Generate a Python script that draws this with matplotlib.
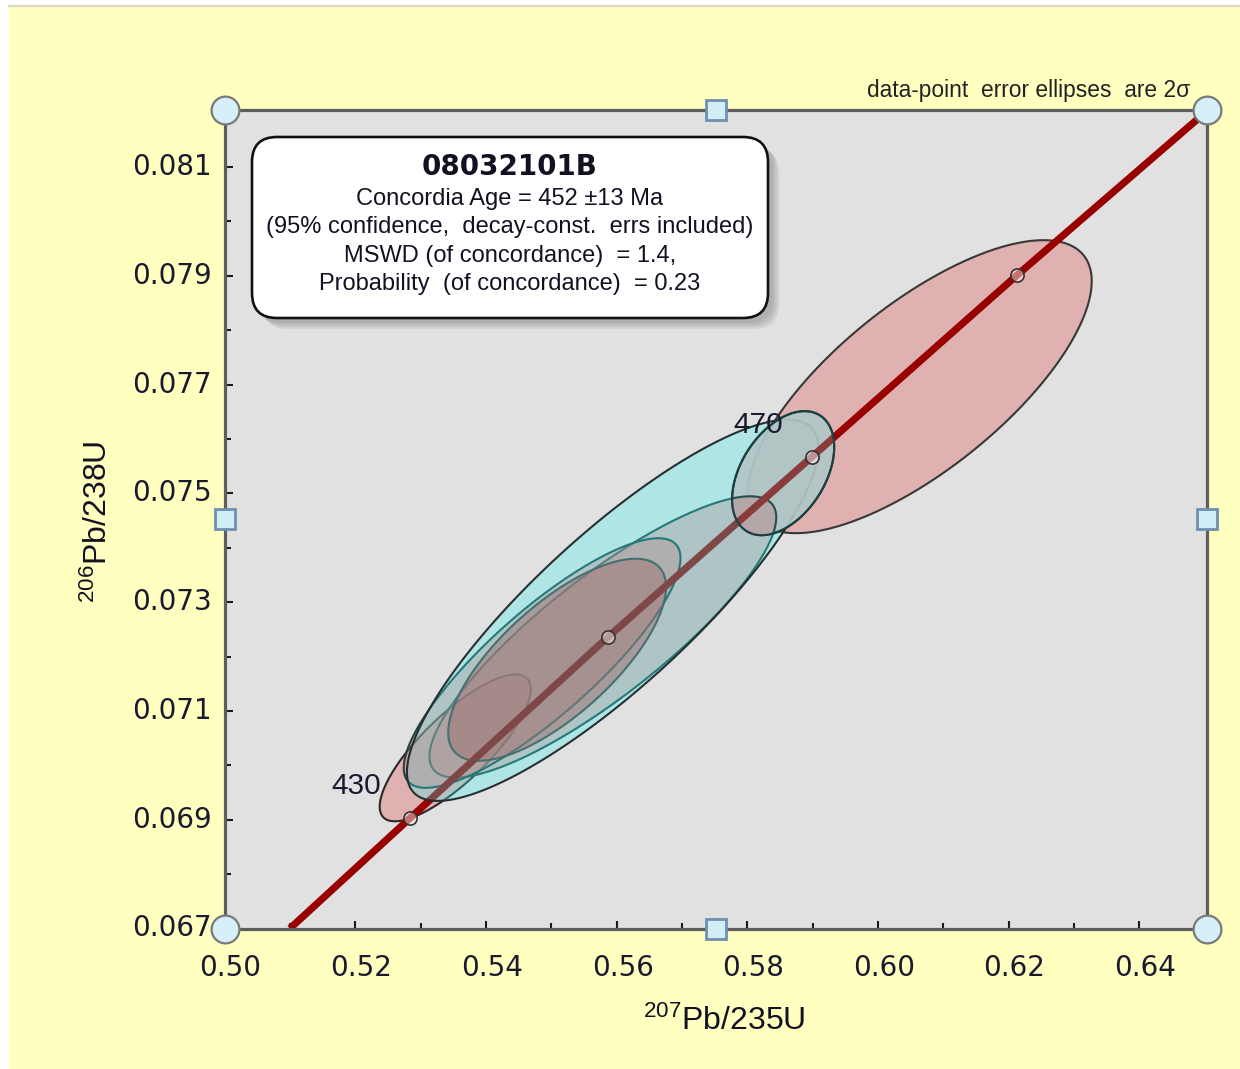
import numpy as np
import matplotlib
matplotlib.use("Agg")
import matplotlib.pyplot as plt
from matplotlib.patches import Polygon, FancyBboxPatch, Rectangle
from matplotlib.lines import Line2D
from matplotlib.ticker import MultipleLocator
from matplotlib.transforms import ScaledTranslation

plt.rcParams['mathtext.fontset'] = 'custom'
plt.rcParams['mathtext.rm'] = 'Liberation Sans'
plt.rcParams['mathtext.it'] = 'Liberation Sans:italic'
plt.rcParams['mathtext.bf'] = 'Liberation Sans:bold'

# ---------------- data ----------------
x_ticks = [0.50, 0.52, 0.54, 0.56, 0.58, 0.60, 0.62, 0.64]
x_tick_labels = ['0.50', '0.52', '0.54', '0.56', '0.58', '0.60', '0.62', '0.64']
y_ticks = [0.067, 0.069, 0.071, 0.073, 0.075, 0.077, 0.079, 0.081]
y_tick_labels = ['0.067', '0.069', '0.071', '0.073', '0.075', '0.077', '0.079', '0.081']

# concordia curve
conc_age = [418, 430, 450, 470, 490, 504]
conc_x = [0.5100, 0.5284, 0.5587, 0.5899, 0.6213, 0.6501]
conc_y = [0.06700, 0.06903, 0.07236, 0.07567, 0.07901, 0.08200]

# age tick marks on concordia
marker_age = [430, 450, 470, 490]
marker_x = [0.5284, 0.5587, 0.5899, 0.6213]
marker_y = [0.06903, 0.07236, 0.07567, 0.07901]
labeled_ages = [430, 470]

# error ellipses (2 sigma): centre, half-extent x, half-extent y, correlation
ell_name = ['A', 'G', 'D', 'E', 'F', 'C', 'B']
ell_x = [0.6064, 0.5353, 0.5579, 0.5486, 0.5509, 0.5594, 0.5855]
ell_y = [0.07696, 0.07032, 0.07236, 0.07188, 0.07194, 0.07285, 0.07537]
ell_sx = [0.02633, 0.01156, 0.02654, 0.02118, 0.01667, 0.03149, 0.00781]
ell_sy = [0.002693, 0.001349, 0.002585, 0.002294, 0.001857, 0.003504, 0.00114]
ell_rho = [0.72, 0.80, 0.85, 0.84, 0.72, 0.85, 0.42]

box_title = '08032101B'
box_lines = ['Concordia Age = 452 \u00b113 Ma',
             '(95% confidence,  decay-const.  errs included)',
             'MSWD (of concordance)  = 1.4,',
             'Probability  (of concordance)  = 0.23']
corner_note = 'data-point  error ellipses  are 2\u03c3'

# ---------------- figure ----------------
W, H, DPI = 1240, 1069, 100
fig = plt.figure(figsize=(W / DPI, H / DPI), dpi=DPI, facecolor='white')

# pale yellow chart area
fig.add_artist(Rectangle((9 / DPI, 0), (W - 9) / DPI, (H - 7) / DPI,
                         transform=fig.dpi_scale_trans, facecolor='#FFFFC0',
                         edgecolor='none', zorder=-10))
fig.add_artist(Line2D([9 / DPI, W / DPI], [(H - 6) / DPI, (H - 6) / DPI],
                      transform=fig.dpi_scale_trans, color='#DCDCC4', lw=1.6, zorder=-9))

ax_l, ax_r, ax_b, ax_t = 224.6, 1206.7, 928.5, 110.0
ax = fig.add_axes([ax_l / W, (H - ax_b) / H, (ax_r - ax_l) / W, (ax_b - ax_t) / H])
ax.set_facecolor('#E1E1E1')
ax.set_xlim(0.5000, 0.65033)
ax.set_ylim(0.0670, 0.082046)


def ellipse_xy(cx, cy, sx, sy, rho, n=300):
    t = np.linspace(0, 2 * np.pi, n)
    x = cx + sx * np.cos(t)
    y = cy + sy * (rho * np.cos(t) + np.sqrt(1 - rho ** 2) * np.sin(t))
    return np.column_stack([x, y])


styles = {
    'A': dict(fc='#E06464', a=0.38, ec='#383838', z=2.0),
    'G': dict(fc='#E06464', a=0.38, ec='#2A2A2A', z=2.1),
    'D': dict(fc='#E06464', a=0.38, ec='#1C4646', z=2.2),
    'E': dict(fc='#E06464', a=0.38, ec='#1C4646', z=2.3),
    'F': dict(fc='#C83C3C', a=0.50, ec='#4A3A3A', z=2.4),
    'C': dict(fc='#40F0F0', a=0.30, ec='#263030', z=4.0),
    'B': dict(fc='#B2C6C6', a=0.92, ec='#1C4040', z=5.0),
}

polys = {}
for name, cx, cy, sx, sy, r in zip(ell_name, ell_x, ell_y, ell_sx, ell_sy, ell_rho):
    st = styles[name]
    xy = ellipse_xy(cx, cy, sx, sy, r)
    face = Polygon(xy, closed=True, facecolor=st['fc'], alpha=st['a'],
                   edgecolor='none', zorder=st['z'])
    ax.add_patch(face)
    edge = Polygon(xy, closed=True, facecolor='none', edgecolor=st['ec'],
                   lw=1.5, zorder=st['z'] + 0.05)
    ax.add_patch(edge)
    polys[name] = (xy, face)

# concordia curve
ax.plot(conc_x, conc_y, color='#990000', lw=5.2, solid_capstyle='butt', zorder=3.0)

# lens of D inside B and concordia inside B (B drawn semi-opaque)
xyD = polys['D'][0]
faceB = polys['B'][1]
lens = Polygon(xyD, closed=True, facecolor='#B5A5A5', edgecolor='#1C4646',
               lw=1.5, alpha=0.92, zorder=5.1)
ax.add_patch(lens)
lens.set_clip_path(faceB)
ln, = ax.plot(conc_x, conc_y, color='#8A3C3C', lw=5.2, solid_capstyle='butt', zorder=5.2)
ln.set_clip_path(faceB)
xyB = polys['B'][0]
ax.add_patch(Polygon(xyB, closed=True, facecolor='none', edgecolor='#1C4040',
                     lw=1.5, zorder=5.3))

# age markers
ax.plot(marker_x, marker_y, linestyle='none', marker='o', markersize=9.5,
        markerfacecolor=(1, 1, 1, 0.45), markeredgecolor='#3A3030',
        markeredgewidth=1.2, zorder=6)
for age, mx, my in zip(marker_age, marker_x, marker_y):
    if age in labeled_ages:
        ax.annotate(str(age), (mx, my), xytext=(-21, 23), textcoords='offset points',
                    ha='right', va='center', fontsize=21.5, family='Liberation Sans',
                    color='#1A1A2E', zorder=7)

# axes styling
for s in ax.spines.values():
    s.set_color('#5E5E5E')
    s.set_linewidth(2.3)
    s.set_zorder(8)

ax.set_xticks(x_ticks)
ax.set_xticklabels(x_tick_labels)
ax.set_yticks(y_ticks)
ax.set_yticklabels(y_tick_labels)
ax.xaxis.set_minor_locator(MultipleLocator(0.01))
ax.yaxis.set_minor_locator(MultipleLocator(0.001))
ax.tick_params(which='both', direction='in', color='#1A1A1A', width=1.5,
               top=False, right=False)
ax.tick_params(which='major', length=6)
ax.tick_params(which='minor', length=4.5)
ax.tick_params(axis='x', which='major', pad=18, labelsize=20, labelcolor='#1A1A2E')
ax.tick_params(axis='y', which='major', pad=9, labelsize=20, labelcolor='#1A1A2E')
for lab in ax.get_xticklabels():
    lab.set_family('DejaVu Sans')
    lab.set_transform(lab.get_transform() + ScaledTranslation(6 / DPI, 0, fig.dpi_scale_trans))
for lab in ax.get_yticklabels():
    lab.set_family('DejaVu Sans')
    lab.set_transform(lab.get_transform() + ScaledTranslation(0, 3 / DPI, fig.dpi_scale_trans))

# selection handles of the chart frame
for (hx, hy) in [(0, 0), (1, 0), (0, 1), (1, 1)]:
    ax.plot([hx], [hy], transform=ax.transAxes, marker='o', markersize=20,
            markerfacecolor='#D6EFF8', markeredgecolor='#7A7A7A', markeredgewidth=1.6,
            clip_on=False, zorder=20)
for (hx, hy) in [(0.5, 0), (0.5, 1), (0, 0.5), (1, 0.5)]:
    ax.plot([hx], [hy], transform=ax.transAxes, marker='s', markersize=15,
            markerfacecolor='#D0EDF8', markeredgecolor='#6F8FB0', markeredgewidth=2.0,
            clip_on=False, zorder=20)

# axis titles
fig.text(724 / W, (H - 1030) / H, r'$\mathrm{^{207}}$Pb/235U', ha='center', va='baseline',
         fontsize=23, family='Liberation Sans', color='#111122')
fig.text(98 / W, (H - 522) / H, r'$\mathrm{^{206}}$Pb/238U', ha='center', va='center',
         rotation=90, fontsize=23, family='Liberation Sans', color='#111122')

# corner note
fig.text(1190 / W, (H - 91) / H, corner_note, ha='right', va='center',
         fontsize=16.4, family='Liberation Sans', color='#222222')

# results box with shadow
bx0, by0, bw, bh = 252 / DPI, (H - 318) / DPI, 516 / DPI, 181 / DPI
for off in [11, 9, 7, 5]:
    fig.add_artist(FancyBboxPatch((bx0 + off / DPI, by0 - off / DPI), bw, bh,
                                  boxstyle='round,pad=0,rounding_size=0.25',
                                  transform=fig.dpi_scale_trans, facecolor='#707070',
                                  edgecolor='none', alpha=0.13, zorder=30))
fig.add_artist(FancyBboxPatch((bx0, by0), bw, bh, boxstyle='round,pad=0,rounding_size=0.25',
                              transform=fig.dpi_scale_trans, facecolor='white',
                              edgecolor='#111111', lw=1.9, zorder=31))
fig.text(510 / W, (H - 167) / H, box_title, ha='center', va='center', fontsize=20,
         fontweight='bold', family='DejaVu Sans', color='#111122', zorder=32)
for ytxt, line in zip([199, 227, 256, 284], box_lines):
    fig.text(510 / W, (H - ytxt) / H, line, ha='center', va='center', fontsize=17,
             family='Liberation Sans', color='#111122', zorder=32)

fig.savefig('out.png', dpi=DPI, facecolor='white')
